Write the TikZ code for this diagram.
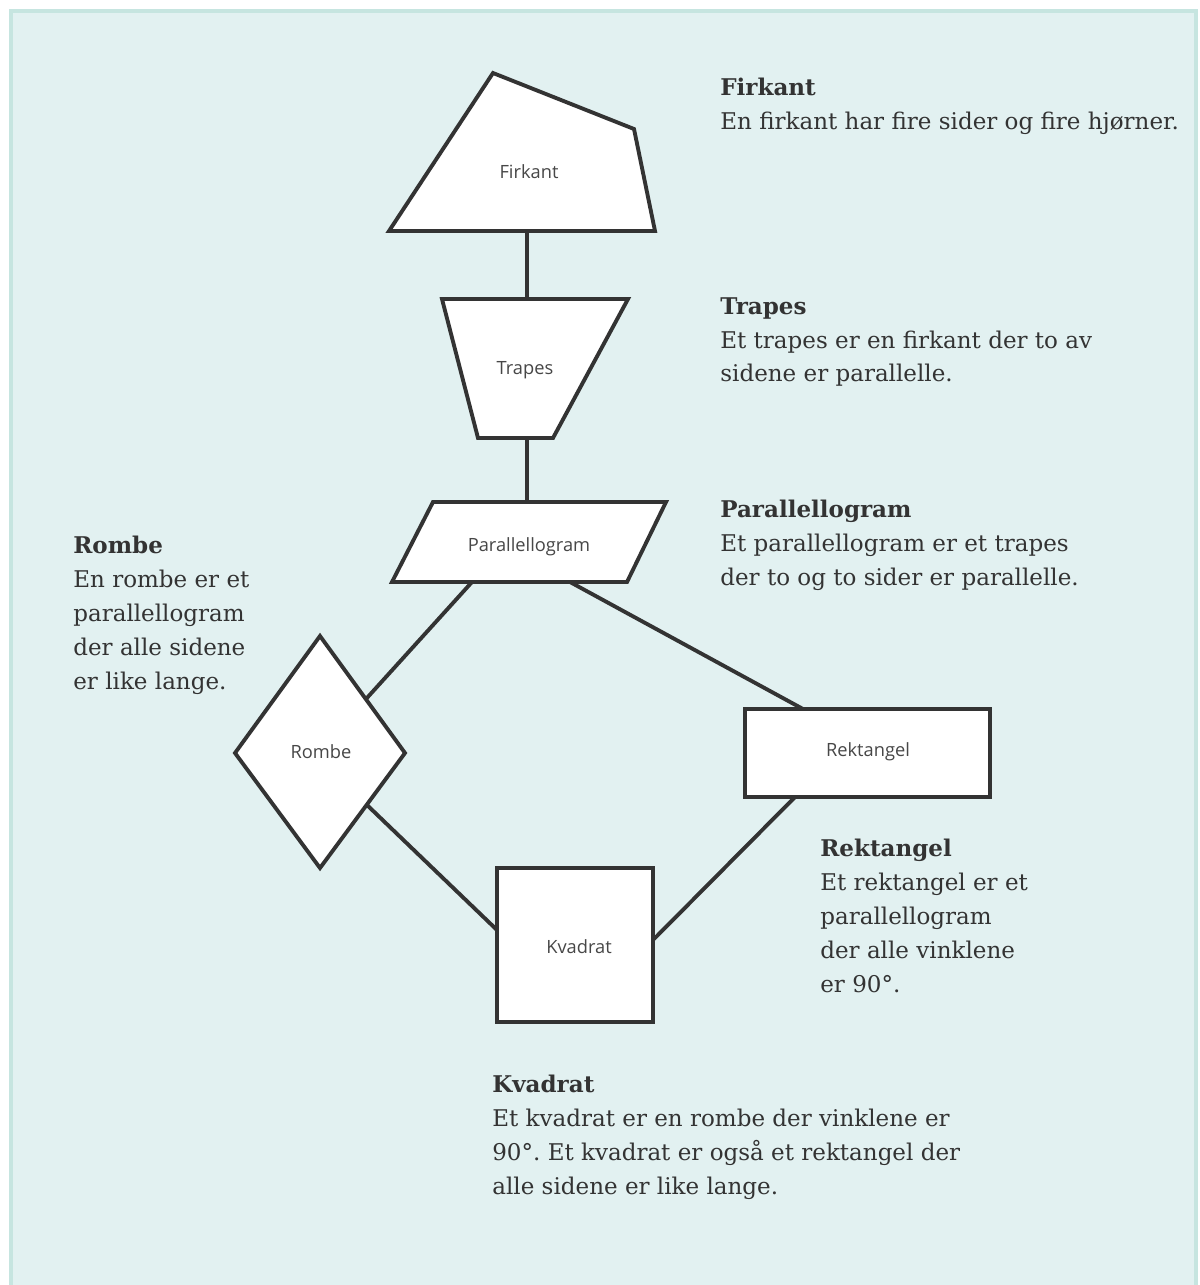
\documentclass[tikz,border=0pt]{standalone}
\usepackage{fontspec}
\setmainfont{DejaVu Serif}
\newfontfamily\labelfont{Open Sans}
\usetikzlibrary{positioning}
\frenchspacing
\definecolor{panelbg}{HTML}{E2F1F1}
\definecolor{panelrim}{HTML}{C6E5E0}
\definecolor{inkgray}{HTML}{333333}
\tikzset{
    figshape/.style = {line width=2.2pt, draw=inkgray, fill=white, line join=miter},
    edgen/.style = {line width=2.2pt, draw=inkgray},
    shapelabel/.style = {font=\labelfont\fontsize{10.4}{12}\selectfont, text=black!72},
    infotext/.style = {anchor=north west, inner sep=0pt, align=left, text=inkgray,
      font=\fontsize{13.1}{19.3}\selectfont}
}

\begin{document}
\begin{tikzpicture}[x=0.02cm, y=-0.02cm]
  \useasboundingbox (0,0) rectangle (1200,1285);
  \fill[panelbg] (11,11) rectangle (1196,1285);
  \draw[panelrim, line width=2.5pt] (11,1285) -- (11,11) -- (1196,11) -- (1196,1285);

  % corners of the shapes
  \coordinate (f1) at (493,73);  \coordinate (f2) at (634,129);
  \coordinate (f3) at (655,231); \coordinate (f4) at (389,231);
  \coordinate (t1) at (442,299); \coordinate (t2) at (628,299);
  \coordinate (t3) at (553,438); \coordinate (t4) at (478,438);
  \coordinate (p1) at (433,502); \coordinate (p2) at (666,502);
  \coordinate (p3) at (627,582); \coordinate (p4) at (392,582);
  \coordinate (r1) at (320,636); \coordinate (r2) at (405,753);
  \coordinate (r3) at (320,868); \coordinate (r4) at (235,753);

  % ends of the connectors
  \coordinate (firkant-s) at (527,231);
  \coordinate (trapes-n) at (527,299);
  \coordinate (trapes-s) at (527,438);
  \coordinate (para-n) at (527,502);
  \coordinate (para-sw) at (472,582);
  \coordinate (para-se) at (570,582);
  \coordinate (rombe-ne) at (366,699);
  \coordinate (rombe-se) at (367,805);
  \coordinate (rekt-n) at (803,709);
  \coordinate (rekt-sw) at (795,797);
  \coordinate (kvad-w) at (497,930);
  \coordinate (kvad-e) at (653,940);

  \draw[edgen] (firkant-s) -- (trapes-n);
  \draw[edgen] (trapes-s) -- (para-n);
  \draw[edgen] (para-sw) -- (rombe-ne);
  \draw[edgen] (para-se) -- (rekt-n);
  \draw[edgen] (rombe-se) -- (kvad-w);
  \draw[edgen] (rekt-sw) -- (kvad-e);

  \draw[figshape] (f1) -- (f2) -- (f3) -- (f4) -- cycle;
  \draw[figshape] (t1) -- (t2) -- (t3) -- (t4) -- cycle;
  \draw[figshape] (p1) -- (p2) -- (p3) -- (p4) -- cycle;
  \draw[figshape] (r1) -- (r2) -- (r3) -- (r4) -- cycle;
  \draw[figshape] (745,709) rectangle (990,797);
  \draw[figshape] (497,868) rectangle (653,1022);

  \node[shapelabel] (firkant) at (529,172) {Firkant};
  \node[shapelabel] (trapes) at (525,370) {Trapes};
  \node[shapelabel] (para) at (529,547) {Parallellogram};
  \node[shapelabel] (rombe) at (321,752) {Rombe};
  \node[shapelabel] (rekt) at (868,752) {Rektangel};
  \node[shapelabel] (kvad) at (579,947) {Kvadrat};

  \node[infotext] (firkant-info) at (720,78)
    {\textbf{Firkant}\\En firkant har fire sider og fire hjørner.};
  \node[infotext] (trapes-info) at (720,297)
    {\textbf{Trapes}\\Et trapes er en firkant der to av\\sidene er parallelle.};
  \node[infotext] (para-info) at (720,500)
    {\textbf{Parallellogram}\\Et parallellogram er et trapes\\der to og to sider er parallelle.};
  \node[infotext] (rombe-info) at (73,536)
    {\textbf{Rombe}\\En rombe er et\\parallellogram\\der alle sidene\\er like lange.};
  \node[infotext] (rekt-info) at (820,839)
    {\textbf{Rektangel}\\Et rektangel er et\\parallellogram\\der alle vinklene\\er 90°.};
  \node[infotext] (kvad-info) at (492,1075)
    {\textbf{Kvadrat}\\Et kvadrat er en rombe der vinklene er\\90°. Et kvadrat er også et rektangel der\\alle sidene er like lange.};
\end{tikzpicture}
\end{document}
